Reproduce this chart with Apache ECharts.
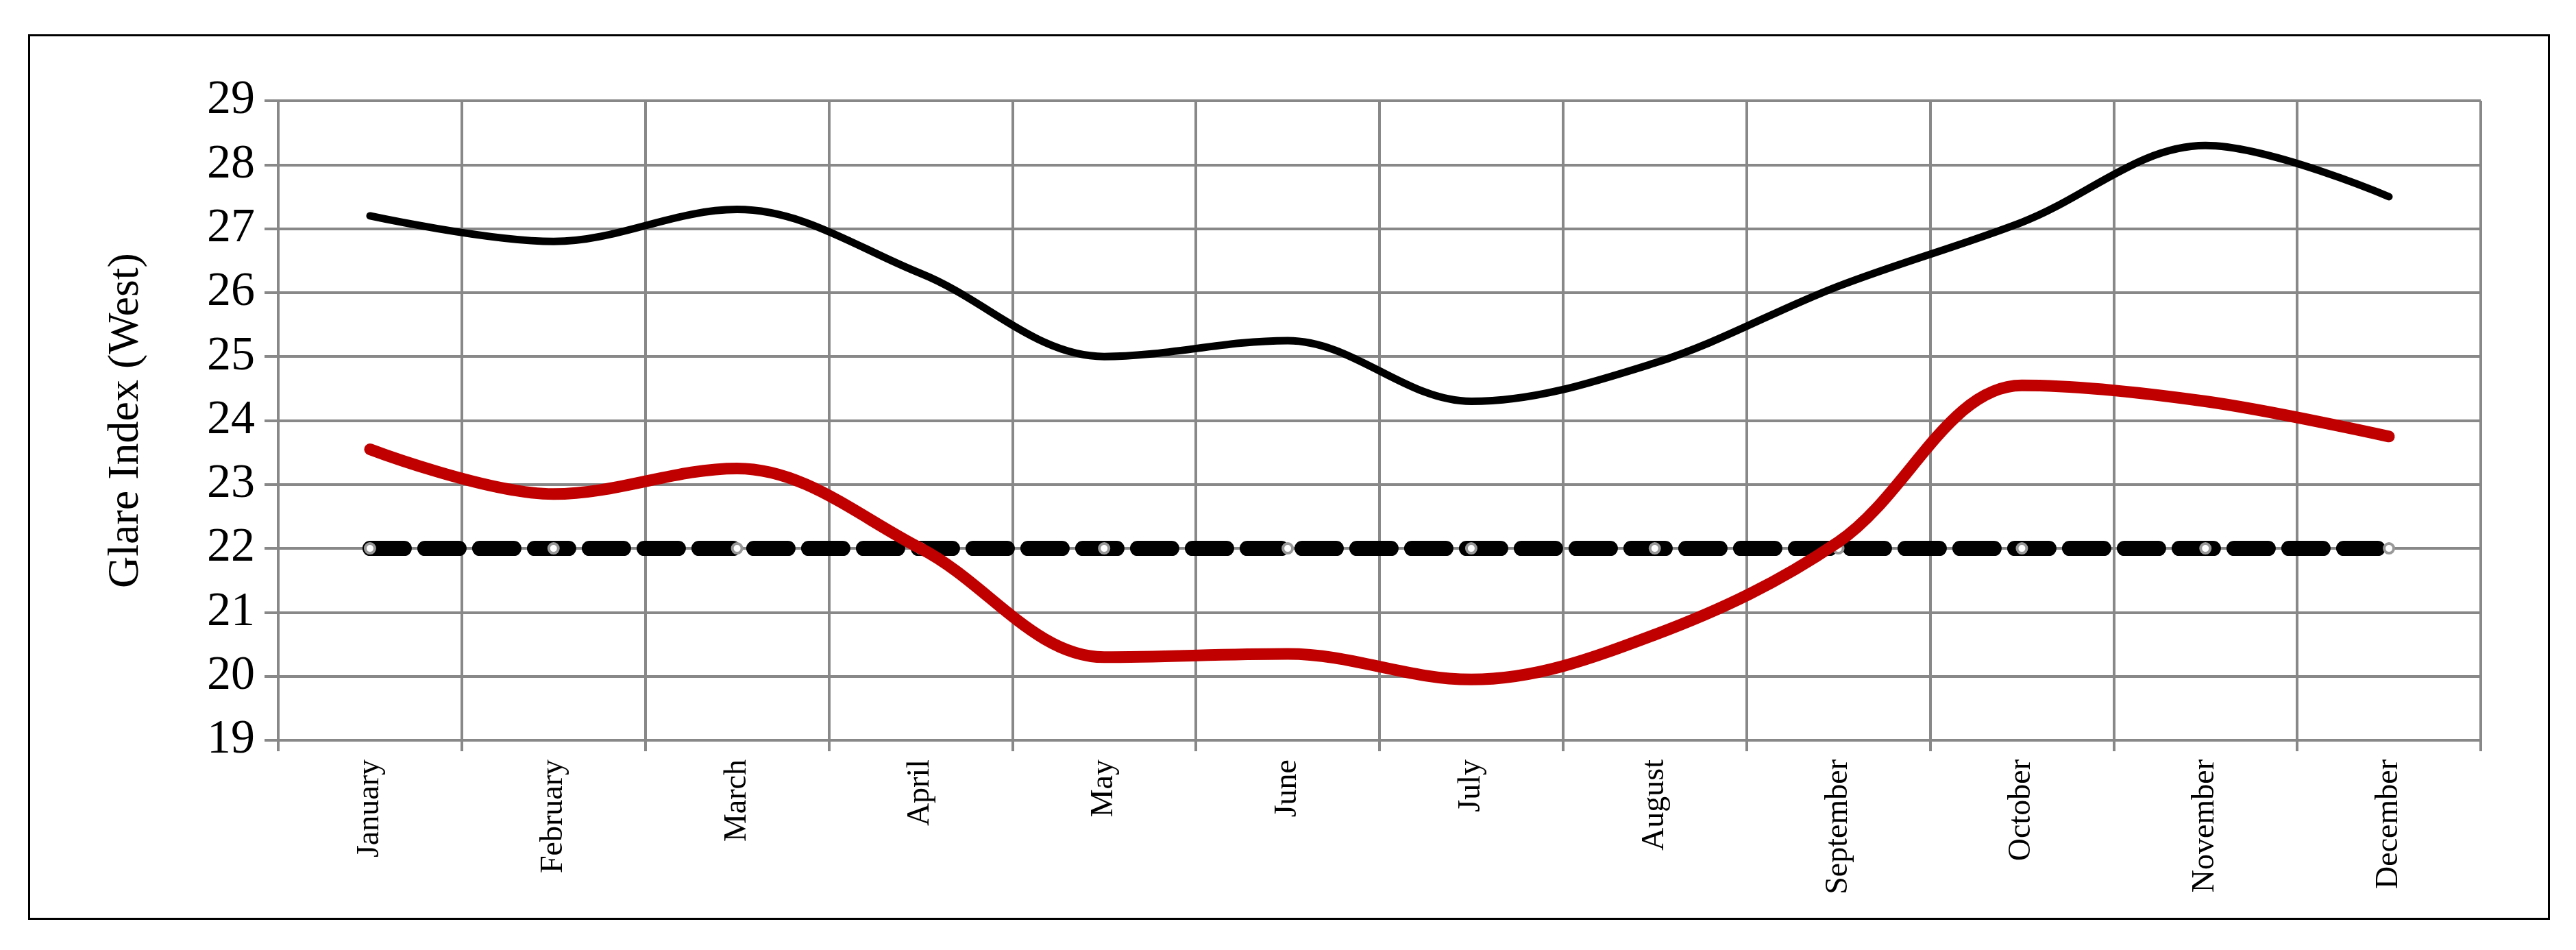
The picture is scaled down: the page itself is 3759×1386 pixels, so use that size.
<!DOCTYPE html>
<html>
<head>
<meta charset="utf-8">
<script src="https://cdn.jsdelivr.net/npm/echarts@6/dist/echarts.min.js"></script>
<style>
html, body { margin: 0; padding: 0; background: #fff; }
#frame { position: absolute; left: 41px; top: 50px; width: 3680px; height: 1292px; border: 3px solid #000; box-sizing: border-box; }
#chart { position: absolute; left: 0; top: 0; width: 3759px; height: 1386px; }
</style>
</head>
<body>
<div id="frame"></div>
<div id="chart"></div>
<script>
// 数据
var months = ['January', 'February', 'March', 'April', 'May', 'June', 'July', 'August', 'September', 'October', 'November', 'December'];
var blackValues = [27.2, 26.8, 27.3, 26.3, 25.0, 25.25, 24.3, 24.9, 26.1, 27.1, 28.3, 27.5];
var redValues = [23.55, 22.85, 23.25, 22.0, 20.3, 20.35, 19.95, 20.65, 22.1, 24.55, 24.3, 23.75];
var limitValues = [22, 22, 22, 22, 22, 22, 22, 22, 22, 22, 22, 22];

var chart = echarts.init(document.getElementById('chart'));
var font = 'Liberation Serif';

chart.setOption({
	animation: false,
	grid: { left: 406, right: 139, top: 147, bottom: 306 },
	xAxis: {
		type: 'category',
		data: months,
		boundaryGap: true,
		axisLine: { lineStyle: { color: '#888', width: 4 } },
		axisTick: { show: true, length: 16, lineStyle: { color: '#888', width: 4 } },
		splitLine: { show: true, lineStyle: { color: '#888', width: 4 } },
		axisLabel: { rotate: 90, color: '#000', fontFamily: font, fontSize: 46, margin: 28 }
	},
	yAxis: {
		type: 'value',
		min: 19, max: 29, interval: 1,
		name: 'Glare Index (West)',
		nameLocation: 'middle',
		nameGap: 190,
		nameTextStyle: { color: '#000', fontFamily: font, fontSize: 64 },
		axisLine: { show: true, lineStyle: { color: '#888', width: 4 } },
		axisTick: { show: true, length: 20, lineStyle: { color: '#888', width: 4 } },
		splitLine: { lineStyle: { color: '#888', width: 4 } },
		axisLabel: { color: '#000', fontFamily: font, fontSize: 70, margin: 34 }
	},
	series: [
		{
			type: 'line', data: limitValues, smooth: false,
			symbol: 'circle', symbolSize: 14,
			itemStyle: { color: '#fff', borderColor: '#999', borderWidth: 4 },
			lineStyle: { color: '#000', width: 22, type: [50, 30], cap: 'round' },
			z: 3
		},
		{
			type: 'line', data: blackValues, smooth: 0.35, symbol: 'none',
			lineStyle: { color: '#000', width: 11, cap: 'round' }, z: 4
		},
		{
			type: 'line', data: redValues, smooth: 0.35, symbol: 'none',
			lineStyle: { color: '#c00000', width: 17, cap: 'round' }, z: 5
		}
	]
});
</script>
</body>
</html>
